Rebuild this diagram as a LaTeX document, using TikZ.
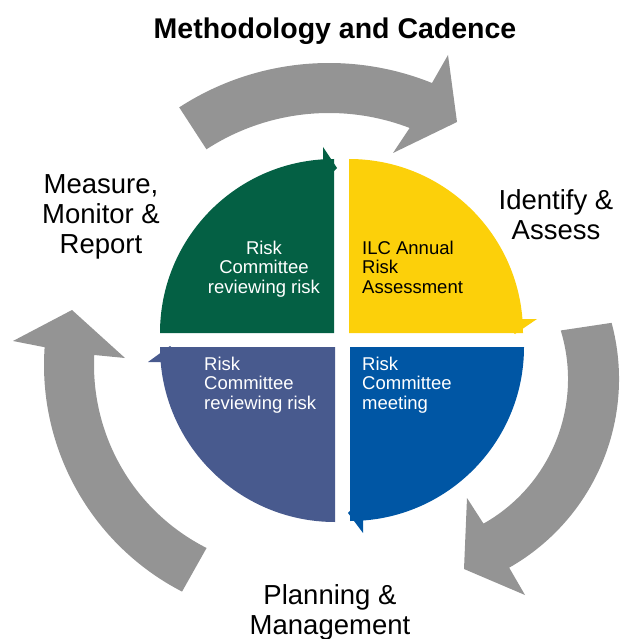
\documentclass[tikz,border=0pt]{standalone}
\usepackage{fontspec}
\setmainfont{Liberation Sans}
\usetikzlibrary{calc}
\definecolor{qgreen}{RGB}{4,96,68}
\definecolor{qyellow}{RGB}{252,208,10}
\definecolor{qblue}{RGB}{0,86,164}
\definecolor{qpurple}{RGB}{72,90,142}
\definecolor{garrow}{RGB}{148,148,148}
\begin{document}
\begin{tikzpicture}[x=1pt,y=-1pt,
  cyclearrow/.style={fill=garrow},
  titlestyle/.style={font=\fontsize{28.5}{32}\selectfont\bfseries, inner sep=0pt},
  lbl/.style={font=\fontsize{27.5}{30}\selectfont, align=center, inner sep=0pt},
  qtext/.style={font=\fontsize{18.5}{19.5}\selectfont, inner sep=0pt}]
\useasboundingbox (0,0) rectangle (620,639);

% centres
\coordinate (Ctop) at (329,338);
\coordinate (Cright) at (402,379);
\coordinate (Cleft) at (299,365);
\coordinate (Cg) at (334,333);
\coordinate (Cy) at (349,333);
\coordinate (Cb) at (350,347);
\coordinate (Cp) at (335,347);

% grey cycle arrows
\fill[cyclearrow] ($(Ctop)+(-123:275)$) arc[start angle=-123, end angle=-68, radius=275]
  -- (448,55) -- (457,122) -- (393,153)
  -- ($(Ctop)+(-69:225)$) arc[start angle=-69, end angle=-123, radius=225] -- cycle;
\fill[cyclearrow] ($(Cright)+(-15:217)$) arc[start angle=-15, end angle=60.4, radius=217]
  -- (525,595) -- (464,569) -- (467,498)
  -- ($(Cright)+(60.6:166)$) arc[start angle=60.6, end angle=-17, radius=166] -- cycle;
\fill[cyclearrow] ($(Cleft)+(117.3:255)$) arc[start angle=117.3, end angle=184, radius=255]
  -- (13,341) -- (72,310) -- (125,358)
  -- ($(Cleft)+(182.8:205)$) arc[start angle=182.8, end angle=116.8, radius=205] -- cycle;

% quadrants
\fill[qgreen] (Cg) -- ($(Cg)+(180:174)$) arc[start angle=180, end angle=270, radius=174] -- cycle;
\fill[qgreen] (323,147) -- (337,168) -- (323,182) -- cycle;
\fill[qyellow] (Cy) -- ($(Cy)+(270:174)$) arc[start angle=270, end angle=360, radius=174] -- cycle;
\fill[qyellow] (537,319) -- (515,334) -- (497,319) -- cycle;
\fill[qblue] (Cb) -- ($(Cb)+(0:174)$) arc[start angle=0, end angle=90, radius=174] -- cycle;
\fill[qblue] (363,533) -- (348,513) -- (363,497) -- cycle;
\fill[qpurple] (Cp) -- ($(Cp)+(90:175)$) arc[start angle=90, end angle=180, radius=175] -- cycle;
\fill[qpurple] (148,362) -- (170,346) -- (186,362) -- cycle;

% quadrant texts (base anchor = baseline of last line)
\node[qtext, text=white, align=center, anchor=base] (tg) at (264,293) {Risk\\Committee\\reviewing risk};
\node[qtext, text=black, align=left, anchor=base west] (ty) at (362,293) {ILC Annual\\Risk\\Assessment};
\node[qtext, text=white, align=left, anchor=base west] (tp) at (204,409) {Risk\\Committee\\reviewing risk};
\node[qtext, text=white, align=left, anchor=base west] (tb) at (362,409) {Risk\\Committee\\meeting};

% labels
\node[titlestyle, anchor=base] (title) at (335,39) {Methodology and Cadence};
\node[lbl, anchor=base] (measure) at (101,253) {Measure,\\Monitor \&\\Report};
\node[lbl, anchor=base] (identify) at (556,239) {Identify \&\\Assess};
\node[lbl, anchor=base] (planning) at (330,634) {Planning \&\\Management};
\end{tikzpicture}
\end{document}
